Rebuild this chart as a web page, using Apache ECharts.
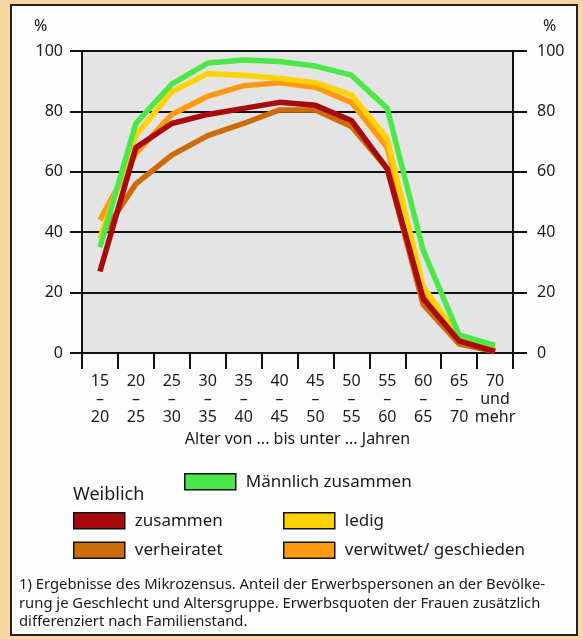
<!DOCTYPE html>
<html>
<head>
<meta charset="utf-8">
<script src="https://cdn.jsdelivr.net/npm/echarts@6/dist/echarts.min.js"></script>
<style>
  html, body { margin: 0; padding: 0; background: #f8d7a0; }
  #chart { width: 583px; height: 639px; }
</style>
</head>
<body>
<div id="chart"></div>
<script>
// Altersgruppen
const ageGroups = ['15\n–\n20', '20\n–\n25', '25\n–\n30', '30\n–\n35', '35\n–\n40', '40\n–\n45',
  '45\n–\n50', '50\n–\n55', '55\n–\n60', '60\n–\n65', '65\n–\n70', '70\nund\nmehr'];

// Erwerbsquoten in %
const maennlichZusammen = [35, 76, 89, 96, 97, 96.5, 95, 92, 81, 34, 6, 2.5];
const weiblichZusammen = [27, 68, 76, 79, 81, 83, 82, 77, 61, 18, 4, 0.5];
const weiblichVerheiratet = [38, 56, 65.5, 72, 76, 80.5, 80.5, 75, 61, 16, 3, 0.5];
const weiblichLedig = [38, 72, 86.5, 92.5, 92, 91, 89.5, 85.5, 71, 22, 5, 1];
const weiblichVerwitwet = [44, 66, 79, 85, 88.5, 89.5, 88, 83, 68, 21, 4.5, 1];

const yTicks = [0, 20, 40, 60, 80, 100];

const font = 'Noto Sans';
const textColor = '#1a1a1a';

const chart = echarts.init(document.getElementById('chart'));

function line(name, data, color, z) {
  return {
    name: name,
    type: 'line',
    data: data,
    symbol: 'none',
    z: z,
    lineStyle: { color: color, width: 5.5, join: 'round' },
    itemStyle: { color: color }
  };
}

const yAxisBase = {
  type: 'value',
  min: yTicks[0],
  max: yTicks[yTicks.length - 1],
  interval: 20,
  axisLine: { show: true, lineStyle: { color: '#111', width: 2 } },
  axisTick: { show: true, inside: false, length: 12, lineStyle: { color: '#111', width: 2 } },
  splitLine: { show: true, lineStyle: { color: '#111', width: 2 } },
  axisLabel: { color: textColor, fontFamily: font, fontSize: 16 }
};

const legendBase = {
  icon: 'rect', itemWidth: 51, itemHeight: 16, itemGap: 12, padding: 0,
  itemStyle: { borderColor: '#111', borderWidth: 1.5 },
  textStyle: { fontFamily: font, fontSize: 17, color: textColor, padding: [0, 0, 0, 5] }
};

const option = {
  backgroundColor: '#f8d7a0',
  animation: false,
  textStyle: { fontFamily: font, color: textColor },
  graphic: [
    {
      type: 'rect', z: -10, silent: true,
      shape: { x: 11, y: 5, width: 566, height: 630 },
      style: { fill: '#fdfdfd', stroke: '#222', lineWidth: 2 }
    },
    {
      type: 'text', left: 34, top: 18,
      style: { text: '%', fontFamily: font, fontSize: 16, fill: textColor }
    },
    {
      type: 'text', left: 543, top: 18,
      style: { text: '%', fontFamily: font, fontSize: 16, fill: textColor }
    },
    {
      type: 'text', left: 73, top: 486,
      style: { text: 'Weiblich', fontFamily: font, fontSize: 18, fill: textColor }
    },
    {
      type: 'text', left: 19, top: 576,
      style: {
        text: '1) Ergebnisse des Mikrozensus. Anteil der Erwerbspersonen an der Bevölke-\n' +
          'rung je Geschlecht und Altersgruppe. Erwerbsquoten der Frauen zusätzlich\n' +
          'differenziert nach Familienstand.',
        fontFamily: font, fontSize: 14.8, lineHeight: 18.5, fill: textColor
      }
    }
  ],
  grid: {
    left: 82, right: 70, top: 51, bottom: 286,
    show: true, backgroundColor: '#e4e4e4', borderWidth: 0
  },
  legend: [
    Object.assign({}, legendBase, { data: ['Männlich zusammen'], left: 184, top: 473 }),
    Object.assign({}, legendBase, { data: ['zusammen', 'verheiratet'], left: 73, top: 512, orient: 'vertical' }),
    Object.assign({}, legendBase, { data: ['ledig', 'verwitwet/ geschieden'], left: 283, top: 512, orient: 'vertical' })
  ],
  xAxis: {
    type: 'category',
    data: ageGroups,
    boundaryGap: true,
    name: 'Alter von ... bis unter ... Jahren',
    nameLocation: 'middle',
    nameGap: 78,
    nameTextStyle: { fontFamily: font, fontSize: 16, color: textColor },
    axisLine: { show: true, lineStyle: { color: '#111', width: 2 } },
    axisTick: { show: true, alignWithLabel: false, length: 16, lineStyle: { color: '#111', width: 2 } },
    splitLine: { show: false },
    axisLabel: {
      interval: 0, margin: 19, color: textColor, fontFamily: font, fontSize: 16, lineHeight: 18
    }
  },
  yAxis: [
    Object.assign({}, yAxisBase, { position: 'left', axisLabel: Object.assign({}, yAxisBase.axisLabel, { margin: 19 }) }),
    Object.assign({}, yAxisBase, { position: 'right', splitLine: { show: false }, axisTick: Object.assign({}, yAxisBase.axisTick, { length: 14 }), axisLabel: Object.assign({}, yAxisBase.axisLabel, { margin: 24 }) })
  ],
  series: [
    line('verheiratet', weiblichVerheiratet, '#cc6d0a', 3),
    line('verwitwet/ geschieden', weiblichVerwitwet, '#ff9a0e', 4),
    line('ledig', weiblichLedig, '#ffd200', 5),
    line('Männlich zusammen', maennlichZusammen, '#4ce84a', 6),
    line('zusammen', weiblichZusammen, '#a80b0b', 7)
  ]
};

chart.setOption(option);
</script>
</body>
</html>
